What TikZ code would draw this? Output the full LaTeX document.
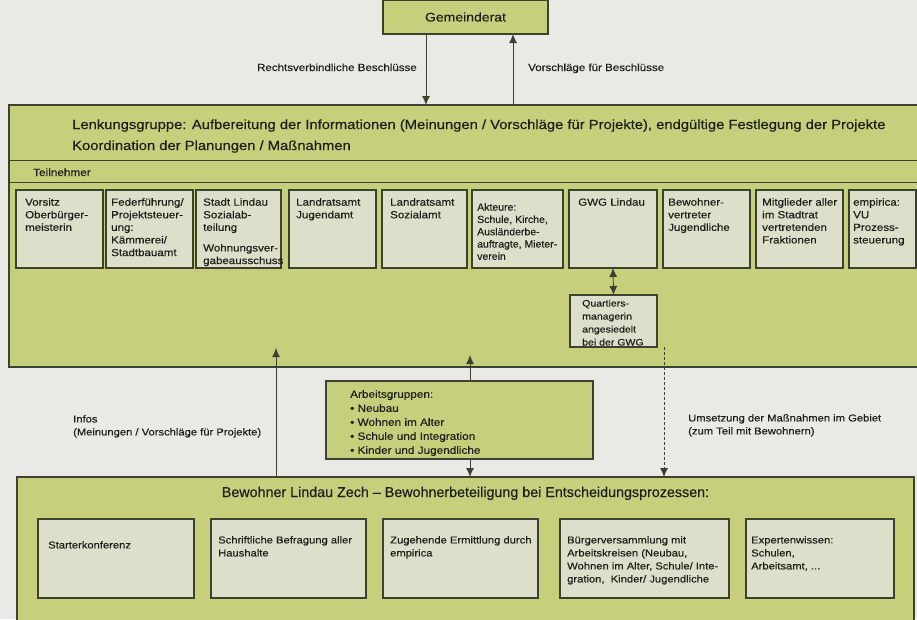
\documentclass[tikz,border=0pt]{standalone}
\usepackage{fontspec}
\setmainfont{Liberation Sans}[FakeStretch=1.12,FakeBold=0.35]
\newfontfamily\plainsans{Liberation Sans}[FakeBold=0.35]
\newfontfamily\narrowsans{Liberation Sans}[FakeStretch=1.02,FakeBold=0.35]
\usetikzlibrary{arrows.meta}
\definecolor{bggray}{RGB}{233,233,230}
\definecolor{boxgreen}{RGB}{198,208,124}
\definecolor{innerfill}{RGB}{222,223,203}
\definecolor{linecol}{RGB}{62,64,48}
\definecolor{textcol}{RGB}{30,30,26}
\newcommand\tbox[7][]{%
  \node[innerbox, anchor=north west, minimum width=#4pt, minimum height=78pt] (#2) at (#3,190) {};
  \node[boxtxt, anchor=north west, #1] (#2t) at ([shift={(#5pt,-#6pt)}]#2.north west) {#7};}
\newcommand\bbox[6]{%
  \node[innerbox, anchor=north west, minimum width=#3pt, minimum height=79pt] (#1) at (#2,519) {};
  \node[btxt, anchor=north west] (#1t) at ([shift={(#4pt,-#5pt)}]#1.north west) {#6};}
\begin{document}
\begin{tikzpicture}[x=1pt,y=-1pt,
  greenbox/.style={draw=linecol, fill=boxgreen, line width=1.2pt, inner sep=0pt, outer sep=0pt, text=textcol},
  innerbox/.style={draw=linecol, fill=innerfill, line width=1.1pt, inner sep=0pt, outer sep=0pt},
  txt/.style={inner sep=0pt, align=left, text=textcol},
  boxtxt/.style={txt, font=\fontsize{10.3}{12.6}\selectfont},
  btxt/.style={txt, font=\fontsize{10}{13}\selectfont},
  thinline/.style={draw=linecol, line width=1pt},
  tip/.tip={Latex[length=9pt,width=8pt]},
  arr/.style={-tip, line width=0.9pt, draw=linecol}]
\useasboundingbox (0,0) rectangle (917,619);
\fill[bggray] (0,0) rectangle (917,619);
\clip (0,0) rectangle (917,619);

% Gemeinderat
\node[greenbox, minimum width=165pt, minimum height=34pt, font=\fontsize{12.5}{14}\selectfont] (gem) at (465.5,17) {Gemeinderat};

% Lenkungsgruppe
\node[greenbox, anchor=north west, minimum width=916pt, minimum height=262pt] (lg) at (9,105) {};
\coordinate (h1) at (0,160);
\coordinate (h2) at (0,182);
\draw[thinline] (lg.west |- h1) -- (lg.east |- h1);
\draw[thinline] (lg.west |- h2) -- (lg.east |- h2);
\node[txt, font=\fontsize{13.2}{16}\selectfont, anchor=base west] (lgt1) at (72,129) {Lenkungsgruppe: Aufbereitung der Informationen (Meinungen / Vorschläge für Projekte), endgültige Festlegung der Projekte};
\node[txt, font=\fontsize{13.2}{16}\selectfont, anchor=base west] (lgt2) at (72,150) {Koordination der Planungen / Maßnahmen};
\node[txt, font=\fontsize{10.5}{12}\selectfont, anchor=base west] (tn) at (33,176) {Teilnehmer};

% Teilnehmer boxes
\tbox{t1}{16}{87}{9}{8}{Vorsitz\\Oberbürger-\\meisterin}
\tbox{t2}{106}{87}{5}{8}{Federführung/\\Projektsteuer-\\ung:\\Kämmerei/\\Stadtbauamt}
\tbox{t3}{196}{85}{7}{8}{Stadt Lindau\\Sozialab-\\teilung\\[8pt]Wohnungsver-\\gabeausschuss}
\tbox{t4}{289}{87}{7}{8}{Landratsamt\\Jugendamt}
\tbox{t5}{382}{85}{8}{8}{Landratsamt\\Sozialamt}
\tbox[font=\narrowsans\fontsize{10.3}{12.3}\selectfont]{t6}{472}{91}{5}{13}{Akteure:\\Schule, Kirche,\\Ausländerbe-\\auftragte, Mieter-\\verein}
\tbox{t7}{569}{88}{9}{8}{GWG Lindau}
\tbox{t8}{663}{87}{5}{8}{Bewohner-\\vertreter\\Jugendliche}
\tbox{t9}{756}{87}{6}{8}{Mitglieder aller\\im Stadtrat\\vertretenden\\Fraktionen}
\tbox{t10}{849}{67}{4}{8}{empirica:\\VU\\Prozess-\\steuerung}

% Quartiersmanagerin
\node[innerbox, anchor=north west, minimum width=87pt, minimum height=52pt] (qm) at (570,295) {};
\node[txt, font=\fontsize{9.4}{13}\selectfont, anchor=north west] (qmt) at ([shift={(12pt,-4.5pt)}]qm.north west) {Quartiers-\\managerin\\angesiedelt\\bei der GWG};

% Arbeitsgruppen
\node[greenbox, anchor=north west, minimum width=267pt, minimum height=78pt] (ag) at (326,381) {};
\node[txt, font=\fontsize{10.5}{14}\selectfont, anchor=north west] (agt) at ([shift={(24pt,-9pt)}]ag.north west) {Arbeitsgruppen:\\• Neubau\\• Wohnen im Alter\\• Schule und Integration\\• Kinder und Jugendliche};

% Bewohner
\node[greenbox, anchor=north west, minimum width=897pt, minimum height=160pt] (bw) at (17,477) {};
\node[txt, font=\plainsans\fontsize{14.3}{16}\selectfont, anchor=base] (bwt) at (465.5,497) {Bewohner Lindau Zech – Bewohnerbeteiligung bei Entscheidungsprozessen:};
\bbox{b1}{38}{156}{10}{22}{Starterkonferenz}
\bbox{b2}{211}{155}{7}{17}{Schriftliche Befragung aller\\Haushalte}
\bbox{b3}{383}{155}{7}{17}{Zugehende Ermittlung durch\\empirica}
\bbox{b4}{560}{169}{7}{17}{Bürgerversammlung mit\\Arbeitskreisen (Neubau,\\Wohnen im Alter, Schule/ Inte-\\gration,\ \ Kinder/ Jugendliche}
\bbox{b5}{746}{148}{5}{17}{Expertenwissen:\\Schulen,\\Arbeitsamt, ...}

% labels
\node[txt, font=\fontsize{10.3}{12}\selectfont, anchor=base east] (rb) at (417,71) {Rechtsverbindliche Beschlüsse};
\node[txt, font=\fontsize{10.3}{12}\selectfont, anchor=base west] (vb) at (528,71) {Vorschläge für Beschlüsse};
\node[txt, font=\fontsize{10}{13}\selectfont, anchor=north west] (info) at (73,415) {Infos\\(Meinungen / Vorschläge für Projekte)};
\node[txt, font=\fontsize{10}{13}\selectfont, anchor=north west] (ums) at (688,414) {Umsetzung der Maßnahmen im Gebiet\\(zum Teil mit Bewohnern)};

% connectors
\coordinate (xd) at (426,0);
\coordinate (xu) at (513,0);
\draw[arr] (gem.south -| xd) -- (lg.north -| xd);
\draw[arr] (lg.north -| xu) -- (gem.south -| xu);
\draw[line width=0.9pt, draw=linecol, tip-tip] (t7.south) -- (qm.north);
\coordinate (aL) at (276,348);
\draw[arr] (bw.north -| aL) -- (aL);
\coordinate (aM) at (470,355);
\draw[arr] (ag.north -| aM) -- (aM);
\draw[arr] (ag.south -| aM) -- (bw.north -| aM);
\coordinate (dX) at (664,0);
\draw[arr, dash pattern=on 3pt off 2pt] (qm.south -| dX) -- (bw.north -| dX);
\end{tikzpicture}
\end{document}
